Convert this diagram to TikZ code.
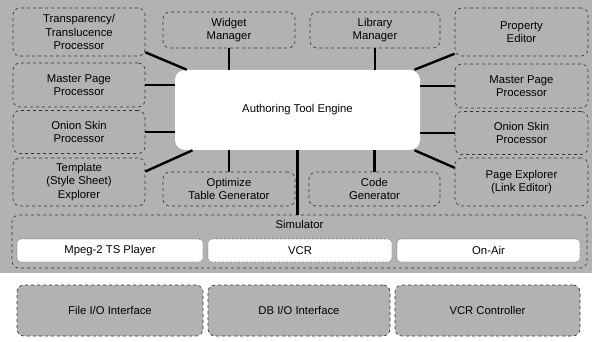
\documentclass[tikz,border=0pt]{standalone}
\usepackage{fontspec}
\setmainfont{Liberation Sans}
\begin{document}
\begin{tikzpicture}[x=1pt,y=-1pt,semithick,font=\fontsize{11.3}{13.6}\selectfont,
    box/.style={draw=black!80,dashed,fill=black!30,rounded corners=7pt,align=center,inner sep=1pt},
    sub/.style={draw=black!60,densely dotted,fill=white,rounded corners=4pt,inner sep=1pt,minimum height=23pt},
    link/.style={line width=2.4pt}]
            \useasboundingbox(0,0)rectangle(592,342);
            \fill[black!30](0,0)rectangle(592,273);
            \node[box,minimum width=132pt,minimum height=48pt](tt)at(79,32){Transparency/\\Translucence\\Processor};
            \node[box,minimum width=132pt,minimum height=44pt](mpl)at(79,85){Master Page\\Processor};
            \node[box,minimum width=132pt,minimum height=43pt](onl)at(79,132){Onion Skin\\Processor};
            \node[box,minimum width=132pt,minimum height=48pt](tpl)at(79,182){Template\\(Style Sheet)\\Explorer};
            \node[box,minimum width=132pt,minimum height=36pt](widget)at(229,30){Widget\\Manager};
            \node[box,minimum width=130pt,minimum height=36pt](library)at(375,30){Library\\Manager};
            \node[box,minimum width=133pt,minimum height=48pt](prop)at(521.5,32){Property\\Editor};
            \node[box,minimum width=133pt,minimum height=44pt](mpr)at(521.5,86){Master Page\\Processor};
            \node[box,minimum width=133pt,minimum height=43pt](onr)at(521.5,133){Onion Skin\\Processor};
            \node[box,minimum width=133pt,minimum height=48pt](pexp)at(521.5,182){Page Explorer\\(Link Editor)};
            \node[box,minimum width=132pt,minimum height=34pt](opt)at(229,189){Optimize\\Table Generator};
            \node[box,minimum width=131pt,minimum height=34pt](code)at(374.5,189){Code\\Generator};
            \node[box,minimum width=575pt,minimum height=53pt](sim)at(299.5,241.5){};
            \node[below=2pt](simtxt)at(sim.north){Simulator};
            \node[sub,minimum width=186pt](mpeg)at(110,250.5){Mpeg-2 TS Player};
            \node[sub,minimum width=184pt](vcr)at(300,250.5){VCR};
            \node[sub,minimum width=183pt](onair)at(488.5,250.5){On-Air};
            \node[box,minimum width=186pt,minimum height=51pt](fio)at(110,310.5){File I/O Interface};
            \node[box,minimum width=182pt,minimum height=51pt](dbio)at(299,310.5){DB I/O Interface};
            \node[box,minimum width=185pt,minimum height=51pt](vcrc)at(487.5,310.5){VCR Controller};
            \node[fill=white,rounded corners=10pt,minimum width=245pt,minimum height=80pt](engine)at(297.5,110){Authoring Tool Engine};
            \draw[link](tt.-17)--(engine.160);\draw[link](prop.198)--(engine.19);
            \draw[link](tpl.9)--(engine.201);\draw[link](pexp.168)--(engine.-19);
            \draw[link](mpl.east)--(mpl.east-|engine.west);\draw[link](onl.east)--(onl.east-|engine.west);
            \draw[link](mpr.west)--(mpr.west-|engine.east);\draw[link](onr.west)--(onr.west-|engine.east);
            \draw[link](widget.south)--(widget.south|-engine.north);\draw[link](library.south)--(library.south|-engine.north);
            \draw[link](opt.north)--(opt.north|-engine.south);\draw[link](code.north)--(code.north|-engine.south);
            \draw[link](engine.south)--(engine.south|-sim.north);
        \end{tikzpicture}
\end{document}
